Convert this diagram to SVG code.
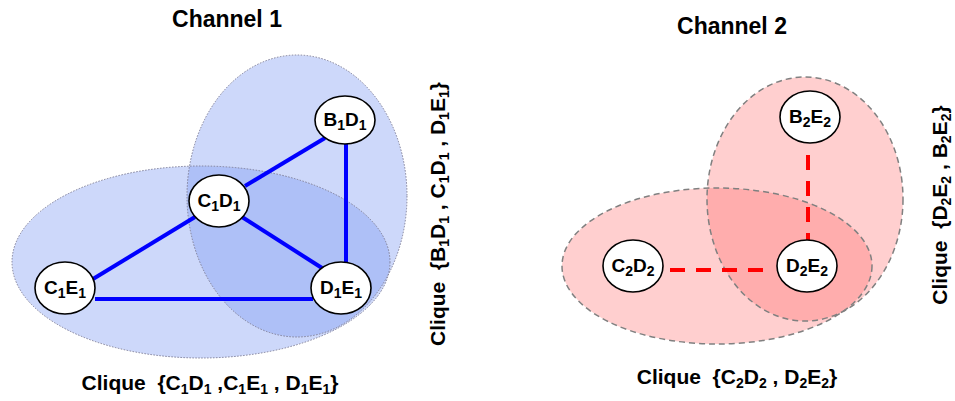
<svg xmlns="http://www.w3.org/2000/svg" width="955" height="401" viewBox="0 0 955 401">
<style>
text{font-family:"Liberation Sans",Arial,sans-serif;font-weight:bold;fill:#000;white-space:pre}
.title{font-size:23px}
.lbl{font-size:21px}
.nl{font-size:19px}
.sub{font-size:14px}
.ls{font-size:14px}
.cb{fill:rgb(124,153,243);fill-opacity:0.38}
.cbs{fill:none;stroke:#7f7f99;stroke-width:1;stroke-dasharray:1.5 1.5}
.cr{fill:rgb(255,88,88);fill-opacity:0.29}
.crs{fill:none;stroke:#808080;stroke-width:1.5;stroke-dasharray:6 4}
.node{fill:#fff;stroke:#000;stroke-width:1.6}
.eb{stroke:#0000ff;stroke-width:4;fill:none}
.er{stroke:#ff0000;stroke-width:4;fill:none;stroke-dasharray:15 11}
</style>
<g id="channel1-titles">
<text class="title" x="227" y="27" text-anchor="middle">Channel 1</text>
</g>
<g id="clique1-regions">
<ellipse class="cb" cx="201" cy="262" rx="189" ry="96"/>
<ellipse class="cb" cx="297" cy="196" rx="110" ry="141"/>
<ellipse class="cbs" cx="201" cy="262" rx="189" ry="96"/>
<ellipse class="cbs" cx="297" cy="196" rx="110" ry="141"/>
</g>
<g id="connectors1">
<line class="eb" x1="325" y1="138" x2="245" y2="186"/>
<line class="eb" x1="346" y1="144" x2="346" y2="263"/>
<line class="eb" x1="195" y1="217" x2="93" y2="279"/>
<line class="eb" x1="242" y1="217" x2="322" y2="268"/>
<line class="eb" x1="95" y1="299" x2="313" y2="299"/>
</g>
<g id="B1D1"><ellipse class="node" cx="345" cy="120" rx="30" ry="24"/><text class="nl" x="345" y="126" text-anchor="middle">B<tspan class="sub" dy="4">1</tspan><tspan dy="-4">D</tspan><tspan class="sub" dy="4">1</tspan></text></g>
<g id="C1D1"><ellipse class="node" cx="219" cy="201" rx="30" ry="26"/><text class="nl" x="219" y="207" text-anchor="middle">C<tspan class="sub" dy="4">1</tspan><tspan dy="-4">D</tspan><tspan class="sub" dy="4">1</tspan></text></g>
<g id="C1E1"><ellipse class="node" cx="65" cy="288" rx="30" ry="26"/><text class="nl" x="65" y="294" text-anchor="middle">C<tspan class="sub" dy="4">1</tspan><tspan dy="-4">E</tspan><tspan class="sub" dy="4">1</tspan></text></g>
<g id="D1E1"><ellipse class="node" cx="341" cy="288" rx="30" ry="26"/><text class="nl" x="341" y="294" text-anchor="middle">D<tspan class="sub" dy="4">1</tspan><tspan dy="-4">E</tspan><tspan class="sub" dy="4">1</tspan></text></g>
<g id="label-clique1a">
<text class="lbl" x="210" y="390" text-anchor="middle">Clique  {C<tspan class="ls" dy="4">1</tspan><tspan dy="-4">D</tspan><tspan class="ls" dy="4">1</tspan><tspan dy="-4"> ,C</tspan><tspan class="ls" dy="4">1</tspan><tspan dy="-4">E</tspan><tspan class="ls" dy="4">1</tspan><tspan dy="-4"> , D</tspan><tspan class="ls" dy="4">1</tspan><tspan dy="-4">E</tspan><tspan class="ls" dy="4">1</tspan><tspan dy="-4">}</tspan></text>
</g>
<g id="label-clique1b">
<text class="lbl" transform="translate(445,214) rotate(-90)" x="0" y="0" text-anchor="middle">Clique  {B<tspan class="ls" dy="4">1</tspan><tspan dy="-4">D</tspan><tspan class="ls" dy="4">1</tspan><tspan dy="-4"> , C</tspan><tspan class="ls" dy="4">1</tspan><tspan dy="-4">D</tspan><tspan class="ls" dy="4">1</tspan><tspan dy="-4"> , D</tspan><tspan class="ls" dy="4">1</tspan><tspan dy="-4">E</tspan><tspan class="ls" dy="4">1</tspan><tspan dy="-4">}</tspan></text>
</g>
<g id="channel2-titles">
<text class="title" x="732" y="34" text-anchor="middle">Channel 2</text>
</g>
<g id="clique2-regions">
<ellipse class="cr" cx="805" cy="199" rx="98" ry="122"/>
<ellipse class="cr" cx="717" cy="266" rx="155" ry="78"/>
<ellipse class="crs" cx="805" cy="199" rx="98" ry="122"/>
<ellipse class="crs" cx="717" cy="266" rx="155" ry="78"/>
</g>
<g id="connectors2">
<line class="er" x1="808" y1="155" x2="808" y2="240"/>
<line class="er" x1="670" y1="270" x2="769" y2="270"/>
</g>
<g id="B2E2"><ellipse class="node" cx="810" cy="117" rx="30" ry="26"/><text class="nl" x="810" y="123" text-anchor="middle">B<tspan class="sub" dy="4">2</tspan><tspan dy="-4">E</tspan><tspan class="sub" dy="4">2</tspan></text></g>
<g id="C2D2"><ellipse class="node" cx="633" cy="266" rx="30" ry="26"/><text class="nl" x="633" y="272" text-anchor="middle">C<tspan class="sub" dy="4">2</tspan><tspan dy="-4">D</tspan><tspan class="sub" dy="4">2</tspan></text></g>
<g id="D2E2"><ellipse class="node" cx="807" cy="266" rx="30" ry="26"/><text class="nl" x="807" y="272" text-anchor="middle">D<tspan class="sub" dy="4">2</tspan><tspan dy="-4">E</tspan><tspan class="sub" dy="4">2</tspan></text></g>
<g id="label-clique2a">
<text class="lbl" x="737" y="384" text-anchor="middle">Clique  {C<tspan class="ls" dy="4">2</tspan><tspan dy="-4">D</tspan><tspan class="ls" dy="4">2</tspan><tspan dy="-4"> , D</tspan><tspan class="ls" dy="4">2</tspan><tspan dy="-4">E</tspan><tspan class="ls" dy="4">2</tspan><tspan dy="-4">}</tspan></text>
</g>
<g id="label-clique2b">
<text class="lbl" transform="translate(947,205) rotate(-90)" x="0" y="0" text-anchor="middle">Clique  {D<tspan class="ls" dy="4">2</tspan><tspan dy="-4">E</tspan><tspan class="ls" dy="4">2</tspan><tspan dy="-4"> , B</tspan><tspan class="ls" dy="4">2</tspan><tspan dy="-4">E</tspan><tspan class="ls" dy="4">2</tspan><tspan dy="-4">}</tspan></text>
</g>
</svg>
